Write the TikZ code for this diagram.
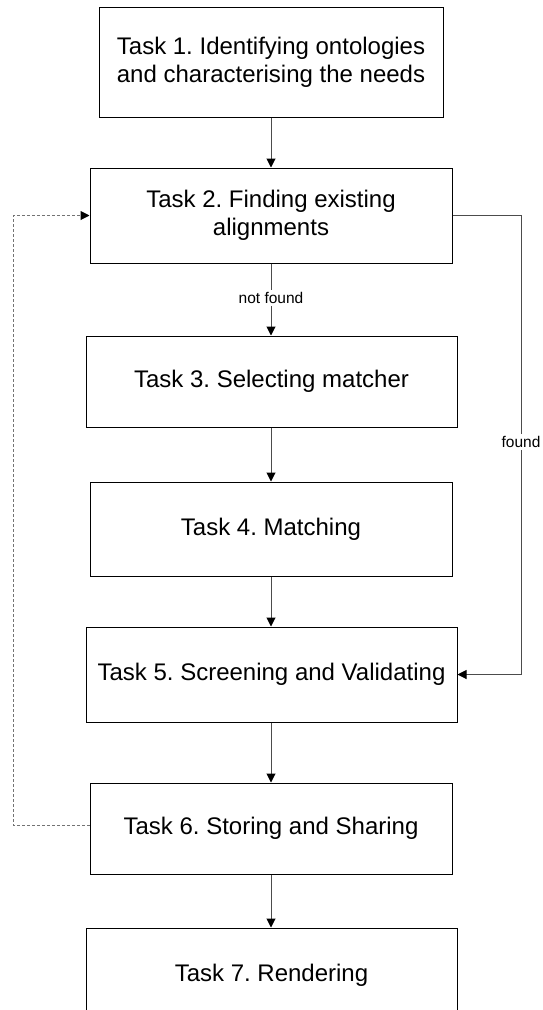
\documentclass[tikz,border=0pt]{standalone}
\usepackage{fontspec}
\setmainfont{Liberation Sans}
\usetikzlibrary{arrows.meta}
\frenchspacing

\tikzset{
  task/.style={draw=black, line width=1pt, fill=white, inner sep=0pt, align=center,
    font=\fontsize{24}{28}\selectfont},
  flow/.style={draw=black!70, line width=1pt,
    -{Triangle[length=9pt,width=9pt,color=black]}},
  back/.style={flow, draw=black!55, dash pattern=on 3pt off 2pt},
  lbl/.style={fill=white, inner sep=2pt, font=\fontsize{15.5}{18}\selectfont}
}

\begin{document}
\begin{tikzpicture}[x=1pt, y=-1pt]
  \useasboundingbox (0,0) rectangle (543,1010);
  \clip (0,0) rectangle (543,1010);

  % task boxes
  \node[task, minimum width=344pt, minimum height=110pt] (t1) at (271,62)
    {Task 1. Identifying ontologies\\and characterising the needs};
  \node[task, minimum width=362pt, minimum height=95pt] (t2) at (271,215.5)
    {Task 2. Finding existing\\alignments};
  \node[task, minimum width=371pt, minimum height=91pt] (t3) at (271.5,381.5)
    {Task 3. Selecting matcher};
  \node[task, minimum width=362pt, minimum height=94pt] (t4) at (271,529)
    {Task 4. Matching};
  \node[task, minimum width=371pt, minimum height=95pt] (t5) at (271.5,674.5)
    {Task 5. Screening and Validating};
  \node[task, minimum width=362pt, minimum height=91pt] (t6) at (271,828.5)
    {Task 6. Storing and Sharing};
  \node[task, minimum width=371pt, minimum height=94pt] (t7) at (271.5,975)
    {Task 7. Rendering};

  % main flow
  \draw[flow] (t1.south -| 271,0) -- (t2.north -| 271,0);
  \draw[flow] (t2.south -| 271,0) -- node[lbl, pos=0.48] {not found} (t3.north -| 271,0);
  \draw[flow] (t3.south -| 271,0) -- (t4.north -| 271,0);
  \draw[flow] (t4.south -| 271,0) -- (t5.north -| 271,0);
  \draw[flow] (t5.south -| 271,0) -- (t6.north -| 271,0);
  \draw[flow] (t6.south -| 271,0) -- (t7.north -| 271,0);

  % shortcut when alignments are found
  \coordinate (fr) at (521,215.5);
  \draw[flow] (t2.east) -- (fr) |- (t5.east);
  \node[lbl] at (521,442) {found};

  % loop back from storing to finding alignments
  \coordinate (bl) at (13,825);
  \draw[back] ([yshift=3.5pt]t6.west) -- (bl) |- (t2.west);
\end{tikzpicture}
\end{document}
